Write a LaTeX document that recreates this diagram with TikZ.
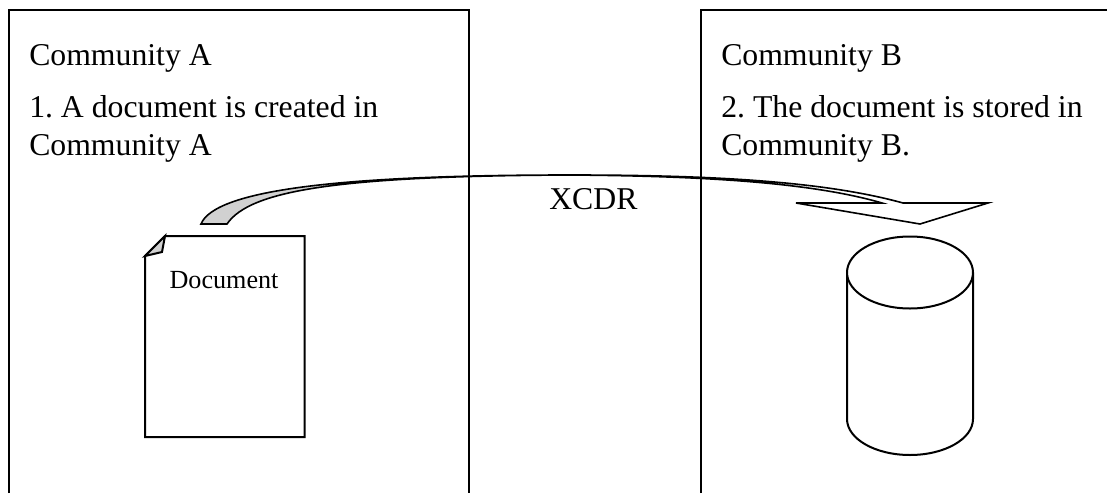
\documentclass[tikz,border=0pt]{standalone}
\usepackage{fontspec}
\setmainfont{Liberation Serif}
\frenchspacing
\tikzset{
  ln/.style={draw=black,line width=1.5pt,line join=miter},
  cv/.style={draw=black,line width=1.2pt,line join=miter},
  lab/.style={anchor=base west,inner sep=0pt,font=\fontsize{23.8}{28}\selectfont},
  small/.style={anchor=base,inner sep=0pt,font=\fontsize{19.6}{22}\selectfont}
}
\begin{document}
\begin{tikzpicture}[x=0.75pt,y=-0.75pt]
\useasboundingbox (0,0) rectangle (1107,493);
\fill[white] (0,0) rectangle (1107,493);
% boxes
\draw[ln] (8.5,493) -- (8.5,9.5) -- (468.5,9.5) -- (468.5,493);
\draw[ln] (700.5,493) -- (700.5,9.5) -- (1107,9.5);
% labels
\node[lab] (ca) at (29,65) {Community A};
\node[lab] (a1) at (29,117) {1. A document is created in};
\node[lab] (a2) at (29,155) {Community A};
\node[lab] (cb) at (721,65) {Community B};
\node[lab] (b1) at (721,117) {2. The document is stored in};
\node[lab] (b2) at (721,155) {Community B.};
\node[lab] (x) at (549,209) {XCDR};
% document
\draw[ln,fill=white] (165,236) -- (304.5,236) -- (304.5,437) -- (145,437) -- (145,256) -- cycle;
\draw[ln,fill=black!18] (165,236) -- (162,252) -- (145,256) -- cycle;
\node[small] (d) at (224,288) {Document};
% curved arrow
\draw[cv,fill=black!18] (201,224) .. controls (215,190) and (340,175) .. (570,175)
  .. controls (340,176) and (250,190) .. (227,224) -- cycle;
\draw[cv,fill=white] (570,175) .. controls (700,175) and (820,180) .. (903,203)
  -- (988,203) -- (920,224) -- (796,203) -- (882,203) .. controls (810,182) and (700,176) .. (570,175) -- cycle;
% cylinder
\draw[ln,fill=white] (847,272.5) -- (847,419) arc[start angle=180,end angle=0,x radius=63,y radius=36] -- (973,272.5);
\draw[ln,fill=white] (910,272.5) ellipse[x radius=63,y radius=36];
\end{tikzpicture}
\end{document}
